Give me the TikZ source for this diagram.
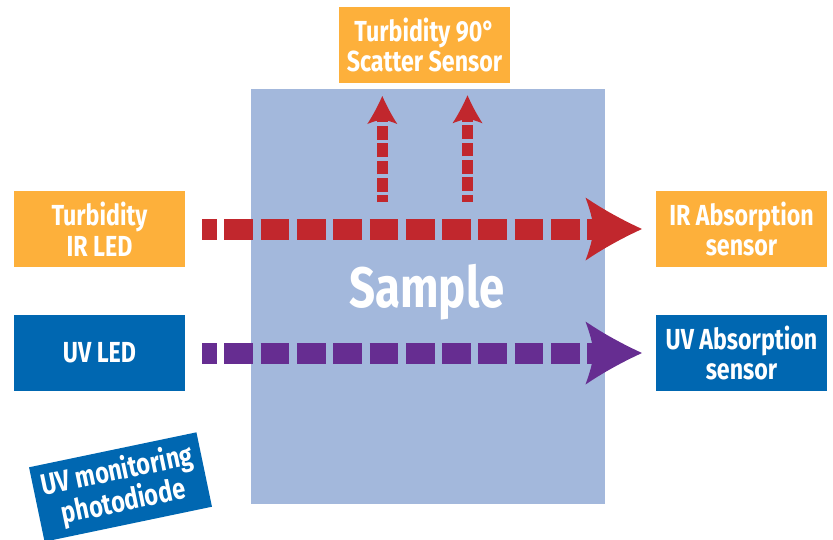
\documentclass[tikz,border=0pt]{standalone}
\usepackage{fontspec}
\usetikzlibrary{arrows.meta}
\newfontfamily\labfont[FakeStretch=0.8]{Fira Sans}
\definecolor{amber}{HTML}{FDB03B}
\definecolor{deepblue}{HTML}{0067B1}
\definecolor{samplefill}{HTML}{A3B8DC}
\definecolor{beamred}{HTML}{C1272D}
\definecolor{beampurple}{HTML}{662D91}
\pgfdeclarearrow{
  name=BeamHead,
  defaults={length=56pt,width=63pt,inset=7pt},
  parameters={\the\pgfarrowlength,\the\pgfarrowwidth,\the\pgfarrowinset},
  setup code={
    \pgfarrowssettipend{\pgfarrowlength}
    \pgfarrowssetlineend{\pgfarrowinset}
    \pgfarrowssetvisualbackend{0pt}
    \pgfarrowssavethe\pgfarrowlength
    \pgfarrowssavethe\pgfarrowwidth
    \pgfarrowssavethe\pgfarrowinset
  },
  drawing code={
    \pgfpathmoveto{\pgfqpoint{\pgfarrowlength}{0pt}}
    \pgfpathcurveto
      {\pgfpoint{0.66\pgfarrowlength}{0.14\pgfarrowwidth}}
      {\pgfpoint{0.33\pgfarrowlength}{0.30\pgfarrowwidth}}
      {\pgfpoint{0pt}{0.5\pgfarrowwidth}}
    \pgfpathcurveto
      {\pgfpoint{0.6\pgfarrowinset}{0.3\pgfarrowwidth}}
      {\pgfpoint{\pgfarrowinset}{0.15\pgfarrowwidth}}
      {\pgfpoint{\pgfarrowinset}{0pt}}
    \pgfpathcurveto
      {\pgfpoint{\pgfarrowinset}{-0.15\pgfarrowwidth}}
      {\pgfpoint{0.6\pgfarrowinset}{-0.3\pgfarrowwidth}}
      {\pgfpoint{0pt}{-0.5\pgfarrowwidth}}
    \pgfpathcurveto
      {\pgfpoint{0.33\pgfarrowlength}{-0.30\pgfarrowwidth}}
      {\pgfpoint{0.66\pgfarrowlength}{-0.14\pgfarrowwidth}}
      {\pgfqpoint{\pgfarrowlength}{0pt}}
    \pgfpathclose
    \pgfusepathqfill
  }
}
\tikzset{
  x=1pt,y=-1pt,
  labelbox/.style={minimum width=171pt,minimum height=76pt,inner sep=0pt,outer sep=0pt,
    text=white,align=center,font=\labfont\bfseries\fontsize{29}{30.5}\selectfont},
  amberbox/.style={labelbox,fill=amber},
  bluebox/.style={labelbox,fill=deepblue},
  mainbeam/.style={line width=21pt,dash pattern=on 28.7pt off 7.6pt,dash phase=14pt,
    -{BeamHead[length=56.5pt,width=63pt,inset=7.5pt]},shorten <=17pt,shorten >=14pt},
  scatterbeam/.style={line width=10.6pt,dash pattern=on 13.7pt off 3.63pt,dash phase=6.7pt,
    -{BeamHead[length=28pt,width=30pt,inset=4pt]}}
}
\begin{document}
\begin{tikzpicture}
\useasboundingbox (0,0) rectangle (833,539);
\node[fill=samplefill,minimum width=354pt,minimum height=415pt,inner sep=0pt] (sample) at (428,296.5) {};
\node[text=white,inner sep=0pt,font=\labfont\bfseries\fontsize{57}{60}\selectfont] (samplelabel) at (427,292) {Sample};
\node[amberbox] (scatter) at (424.5,45) {Turbidity 90°\\Scatter Sensor};
\node[amberbox] (irled) at (99.5,229) {Turbidity\\IR LED};
\node[bluebox] (uvled) at (99.5,353) {UV LED};
\node[amberbox] (irabs) at (741.5,229) {IR Absorption\\sensor};
\node[bluebox] (uvabs) at (741.5,353) {UV Absorption\\sensor};
\node[bluebox,rotate=11.8,font=\labfont\bfseries\fontsize{29.5}{30}\selectfont] (monitor) at (120.5,487) {UV monitoring\\photodiode};
\coordinate (sa) at (382.3,202.3);
\coordinate (sb) at (382.3,96);
\coordinate (sc) at (467.5,201.6);
\coordinate (sd) at (467.5,95.3);
\draw[mainbeam,beamred] (irled.east) -- (irabs.west);
\draw[mainbeam,beampurple] (uvled.east) -- (uvabs.west);
\draw[scatterbeam,beamred] (sa) -- (sb);
\draw[scatterbeam,beamred] (sc) -- (sd);
\end{tikzpicture}
\end{document}
